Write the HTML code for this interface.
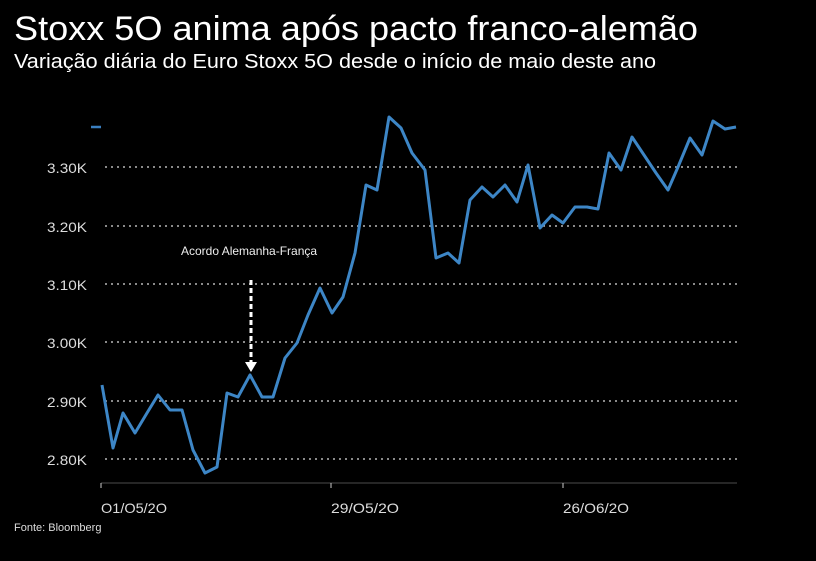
<!DOCTYPE html>
<html><head><meta charset="utf-8"><style>
html,body{margin:0;padding:0;background:#000;}
svg{display:block;font-family:"Liberation Sans",sans-serif;}
</style></head><body>
<svg width="816" height="561" viewBox="0 0 816 561" xmlns="http://www.w3.org/2000/svg">
<rect width="816" height="561" fill="#000"/>
<text x="14" y="40" fill="#fff" font-size="34" textLength="684" lengthAdjust="spacingAndGlyphs">Stoxx 5O anima após pacto franco-alemão</text>
<text x="14" y="68" fill="#fff" font-size="20" textLength="642" lengthAdjust="spacingAndGlyphs">Variação diária do Euro Stoxx 5O desde o início de maio deste ano</text>
<g stroke="#ddd" stroke-width="1.3" stroke-dasharray="2,4">
<line x1="105" y1="167" x2="738" y2="167"/>
<line x1="105" y1="226" x2="738" y2="226"/>
<line x1="105" y1="284" x2="738" y2="284"/>
<line x1="105" y1="342" x2="738" y2="342"/>
<line x1="105" y1="401" x2="738" y2="401"/>
<line x1="105" y1="459" x2="738" y2="459"/>
</g>
<g fill="#ddd" font-size="14">
<text x="47" y="173" textLength="40" lengthAdjust="spacingAndGlyphs">3.30K</text>
<text x="47" y="232" textLength="40" lengthAdjust="spacingAndGlyphs">3.20K</text>
<text x="47" y="290" textLength="40" lengthAdjust="spacingAndGlyphs">3.10K</text>
<text x="47" y="348" textLength="40" lengthAdjust="spacingAndGlyphs">3.00K</text>
<text x="47" y="407" textLength="40" lengthAdjust="spacingAndGlyphs">2.90K</text>
<text x="47" y="465" textLength="40" lengthAdjust="spacingAndGlyphs">2.80K</text>
</g>
<line x1="101" y1="483" x2="737" y2="483" stroke="#333" stroke-width="1.5"/>
<g stroke="#ccc" stroke-width="1"><line x1="101" y1="483" x2="101" y2="488"/><line x1="331" y1="483" x2="331" y2="488"/><line x1="563" y1="483" x2="563" y2="488"/></g>
<g fill="#ddd" font-size="14">
<text x="101" y="513" textLength="66" lengthAdjust="spacingAndGlyphs">O1/O5/2O</text>
<text x="331" y="513" textLength="68" lengthAdjust="spacingAndGlyphs">29/O5/2O</text>
<text x="563" y="513" textLength="66" lengthAdjust="spacingAndGlyphs">26/O6/2O</text>
</g>
<text x="14" y="531" fill="#ddd" font-size="11">Fonte: Bloomberg</text>
<line x1="91" y1="127" x2="101" y2="127" stroke="#3a7fc0" stroke-width="2.5"/>
<text x="181" y="255" fill="#eee" font-size="12">Acordo Alemanha-França</text>
<line x1="251" y1="280" x2="251" y2="362" stroke="#fff" stroke-width="3" stroke-dasharray="5,3"/>
<polygon points="245,362 257,362 251,372" fill="#fff"/>
<polyline fill="none" stroke="#3d86c6" stroke-width="3" stroke-linejoin="round" points="102,385 113,448 123,413 135,433 147,413 158,395 170,410 182,410 193,450 205,473 217,467 227,393 238,397 250,375 262,397 273,397 285,358 297,343 308,315 320,288 332,313 343,297 355,253 366,185 377,190 389,117 401,128 412,153 425,170 436,258 448,253 459,263 470,200 482,187 493,197 505,185 517,202 528,165 540,228 552,215 563,223 575,207 587,207 598,209 609,153 621,170 632,137 644,155 656,173 668,190 678,167 690,138 702,155 713,121 725,129 736,127"/>
</svg>
</body></html>
